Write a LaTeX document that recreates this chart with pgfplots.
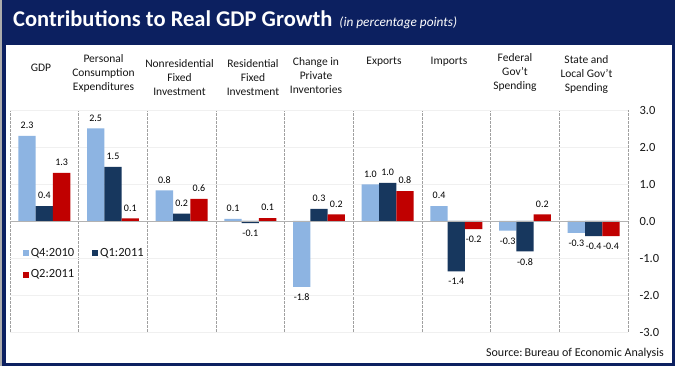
\documentclass[border=0pt]{standalone}
\usepackage{pgfplots}
\pgfplotsset{compat=1.18}
\usetikzlibrary{backgrounds}
\usepackage{fontspec}
\setmainfont{Carlito}
\definecolor{frame}{RGB}{12,32,96}
\definecolor{lblue}{RGB}{141,180,226}
\definecolor{dnavy}{RGB}{23,55,94}
\definecolor{dred}{RGB}{192,0,0}
\definecolor{sep}{RGB}{160,160,160}
\definecolor{txt}{RGB}{22,22,22}
\begin{document}
\begin{tikzpicture}[x=1pt,y=1pt]
\begin{axis}[
  scale only axis, width=618pt, height=222pt,
  xmin=-0.5, xmax=8.5, ymin=-3, ymax=3,
  ybar=0pt, bar width=17.3pt,
  axis line style={draw=none},
  tick style={draw=none},
  xtick={-0.5,0.5,...,8.5}, xticklabels={},
  xmajorgrids, major x grid style={sep, dashed, line width=0.6pt, dash pattern=on 2.5pt off 1.5pt},
  ytick={-3,-2,...,3},
  yticklabels={-3.0,-2.0,-1.0,0.0,1.0,2.0,\raisebox{-7pt}{3.0}},
  ymajorgrids, major y grid style={gray!12, line width=0.5pt},
  yticklabel pos=right,
  yticklabel style={xshift=8pt, font=\fontsize{12.5}{14}\selectfont, text=txt},
  /pgf/number format/assume math mode=true,
  /pgf/number format/.cd, fixed, fixed zerofill, precision=1, /pgfplots/.cd,
  clip=false,
  nodes near coords,
  nodes near coords style={font=\fontsize{10}{12}\selectfont, text=black, inner ysep=7pt, inner xsep=0.5pt,
     /pgf/number format/.cd, fixed, fixed zerofill, precision=1},
  legend image code/.code={\fill[#1] (0pt,-3pt) rectangle (6pt,3pt);},
  legend style={at={(axis cs:-0.36,-0.62)}, anchor=north west, draw=none, fill=none,
     font=\fontsize{12.5}{14}\selectfont, text=txt, row sep=8pt,
     /tikz/every even column/.append style={column sep=16pt}},
  legend columns=2, legend cell align=left,
]
\addplot[fill=lblue, draw=none] coordinates {(0,2.30) (1,2.50) (2,0.83) (3,0.06) (4,-1.78) (5,0.99) (6,0.40) (7,-0.26) (8,-0.32)};
\addplot[fill=dnavy, draw=none] coordinates {(0,0.40) (1,1.46) (2,0.20) (3,-0.06) (4,0.33) (5,1.03) (6,-1.36) (7,-0.82) (8,-0.41)};
\addplot[fill=dred, draw=none] coordinates {(0,1.30) (1,0.07) (2,0.60) (3,0.08) (4,0.18) (5,0.81) (6,-0.22) (7,0.18) (8,-0.41)};
\legend{Q4:2010, Q1:2011, Q2:2011}
\draw[gray!60, line width=0.8pt] (axis cs:-0.5,0) -- (axis cs:8.5,0);
\coordinate (O) at (axis cs:-0.5,-3);
\end{axis}
\begin{scope}[shift={(O)}, shift={(-10,-34)}]
\begin{pgfonlayer}{background}
\fill[frame] (0,0) rectangle (675,366);
\fill[gray!65] (0,0) rectangle (2,366);
\fill[white] (6,3) rectangle (672,321);
\end{pgfonlayer}
\node[anchor=base west, text=white, inner sep=0pt] at (13,339)
  {\fontsize{22.5}{26}\selectfont\bfseries Contributions to Real GDP Growth\hspace{7pt}\fontsize{13.3}{15}\selectfont\mdseries\itshape (in percentage points)};
\begin{scope}[every node/.style={align=center, text=txt, font=\fontsize{11.5}{14}\selectfont, inner sep=0pt}]
\node at (41,297.7) {GDP};
\node at (103.5,292.5) {Personal\\Consumption\\Expenditures};
\node at (179.5,288.5) {Nonresidential\\Fixed\\Investment};
\node at (253,288.5) {Residential\\Fixed\\Investment};
\node at (316,290.7) {Change in\\Private\\Inventories};
\node at (384,304.3) {Exports};
\node at (449,304.3) {Imports};
\node at (515,293.7) {Federal\\Gov't\\Spending};
\node at (586.5,291.8) {State and\\Local Gov't\\Spending};
\end{scope}
\node[anchor=base east, text=txt, inner sep=0pt, font=\fontsize{12}{14}\selectfont] at (664,9.3) {Source:\,Bureau of Economic Analysis};
\pgfresetboundingbox
\useasboundingbox (0,0) rectangle (675,366);
\end{scope}
\end{tikzpicture}
\end{document}
